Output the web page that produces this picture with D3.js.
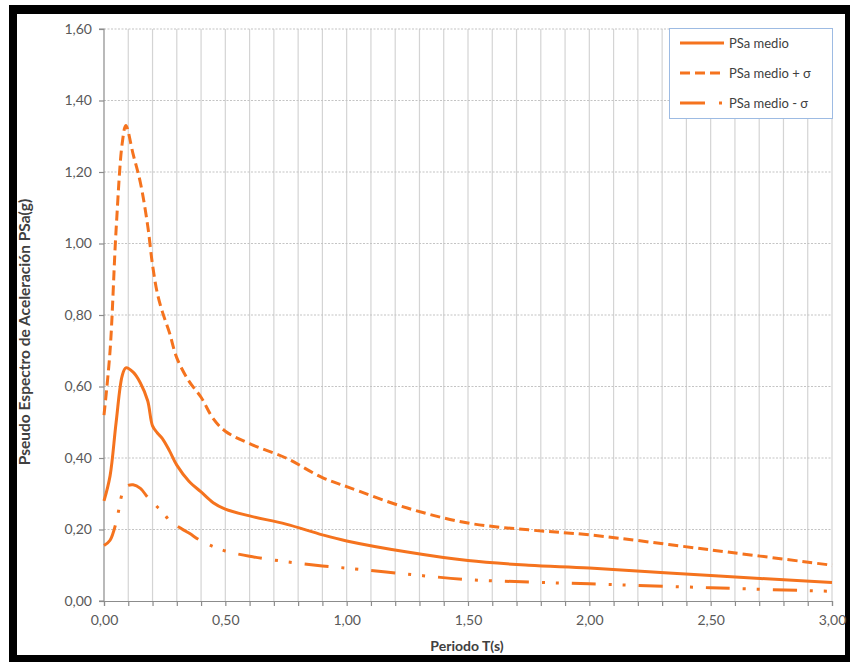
<!DOCTYPE html>
<html>
<head>
<meta charset="utf-8">
<script src="https://cdn.jsdelivr.net/npm/d3@7"></script>
<style>
  html, body { margin: 0; padding: 0; background: #fff; }
  svg { display: block; }
</style>
</head>
<body>
<svg id="chart" width="850" height="662"></svg>
<script>
// ---- data ----
const periods   = [0, 0.025, 0.05, 0.075, 0.09, 0.12, 0.15, 0.18, 0.2, 0.22, 0.24, 0.27, 0.3, 0.35, 0.4, 0.45, 0.5, 0.6, 0.75, 0.9, 1.0, 1.25, 1.5, 1.75, 2.0, 2.5, 3.0];
const psaMedio  = [0.28, 0.35, 0.50, 0.63, 0.652, 0.64, 0.61, 0.56, 0.49, 0.47, 0.455, 0.42, 0.38, 0.335, 0.305, 0.275, 0.257, 0.238, 0.215, 0.185, 0.168, 0.137, 0.113, 0.100, 0.092, 0.071, 0.052];
const psaPlus   = [0.52, 0.70, 1.04, 1.28, 1.33, 1.25, 1.17, 1.05, 0.94, 0.86, 0.81, 0.75, 0.68, 0.615, 0.57, 0.51, 0.475, 0.44, 0.40, 0.345, 0.32, 0.26, 0.218, 0.199, 0.185, 0.143, 0.10];
const psaMinus  = [0.155, 0.17, 0.22, 0.30, 0.32, 0.325, 0.315, 0.29, 0.277, 0.263, 0.25, 0.225, 0.21, 0.19, 0.168, 0.152, 0.14, 0.125, 0.11, 0.098, 0.092, 0.075, 0.06, 0.053, 0.048, 0.037, 0.027];
const seriesNames = ["PSa medio", "PSa medio + σ", "PSa medio - σ"];
const xTicks = [0, 0.5, 1.0, 1.5, 2.0, 2.5, 3.0];
const yTicks = [0, 0.2, 0.4, 0.6, 0.8, 1.0, 1.2, 1.4, 1.6];
const xTitle = "Periodo T(s)";
const yTitle = "Pseudo Espectro de Aceleración PSa(g)";

// ---- layout ----
const svg = d3.select("#chart");
const color = "#F5731E";
const fmt = v => d3.format(".2f")(v).replace(".", ",");

// black frame
svg.append("rect").attr("x", 9).attr("y", 5).attr("width", 841).attr("height", 657).attr("fill", "#000");
svg.append("rect").attr("x", 17).attr("y", 14).attr("width", 828).attr("height", 641).attr("fill", "#fff");

const x = d3.scaleLinear().domain([0, 3]).range([104, 832]);
const y = d3.scaleLinear().domain([0, 1.6]).range([601, 29]);

// vertical grid (every 0.1)
const minorX = d3.range(1, 31).map(i => i / 10);
svg.append("g").selectAll("line").data(minorX).join("line")
  .attr("x1", d => x(d)).attr("x2", d => x(d))
  .attr("y1", y(1.6)).attr("y2", y(0))
  .attr("stroke", "#d4d4d4").attr("stroke-width", 1.2);

// horizontal grid
svg.append("g").selectAll("line").data(yTicks.slice(1)).join("line")
  .attr("x1", x(0)).attr("x2", x(3))
  .attr("y1", d => y(d)).attr("y2", d => y(d))
  .attr("stroke", "#c4c4c4").attr("stroke-width", 1.2).attr("stroke-dasharray", "2,1.5");

// axes
const yAxis = d3.axisLeft(y).tickValues(yTicks).tickFormat(fmt).tickSize(5).tickPadding(7);
const gy = svg.append("g").attr("transform", `translate(${x(0)},0)`).call(yAxis);
const xAxis = d3.axisBottom(x).tickValues(d3.range(0, 31).map(i => i / 10)).tickFormat(d => xTicks.some(t => Math.abs(t - d) < 1e-9) ? fmt(d) : "").tickSize(5).tickPadding(9);
const gx = svg.append("g").attr("transform", `translate(0,${y(0)})`).call(xAxis);
[gx, gy].forEach(g => {
  g.select(".domain").attr("stroke", "#8c8c8c").attr("stroke-width", 1.2);
  g.selectAll(".tick line").attr("stroke", "#8c8c8c").attr("stroke-width", 1.2);
  g.selectAll(".tick text").attr("fill", "#595959").attr("font-family", "Lato, 'Open Sans', sans-serif").attr("font-size", 14);
});
gy.select(".domain").attr("d", `M-5,${y(1.6)}H0V${y(0)}H-5`);

// axis titles
svg.append("text").attr("x", 467).attr("y", 651).attr("text-anchor", "middle")
  .attr("font-family", "Lato, 'Open Sans', sans-serif").attr("font-weight", "bold").attr("font-size", 14)
  .attr("fill", "#404040").text(xTitle);
svg.append("text").attr("transform", "translate(30,332) rotate(-90)").attr("text-anchor", "middle")
  .attr("font-family", "Lato, 'Open Sans', sans-serif").attr("font-weight", "bold").attr("font-size", 15.5)
  .attr("fill", "#404040").text(yTitle);

// lines
const series = [
  { name: seriesNames[0], values: psaMedio, dash: null },
  { name: seriesNames[1], values: psaPlus, dash: "10,5" },
  { name: seriesNames[2], values: psaMinus, dash: "24,13,3,11,3,13" }
];
const line = d3.line().x(d => x(d[0])).y(d => y(d[1])).curve(d3.curveCatmullRom.alpha(0.5));
svg.append("g").selectAll("path").data(series).join("path")
  .attr("d", s => line(periods.map((p, i) => [p, s.values[i]])))
  .attr("fill", "none").attr("stroke", color).attr("stroke-width", 3)
  .attr("stroke-dasharray", s => s.dash);

// legend
const lg = svg.append("g");
lg.append("rect").attr("x", 669.5).attr("y", 28.5).attr("width", 163).attr("height", 90)
  .attr("fill", "#fff").attr("stroke", "#9dbbe3").attr("stroke-width", 1);
const rows = lg.selectAll("g.row").data(series).join("g").attr("class", "row")
  .attr("transform", (d, i) => `translate(0,${43 + i * 30})`);
rows.append("line").attr("x1", 680).attr("x2", 724).attr("y1", 0).attr("y2", 0)
  .attr("stroke", color).attr("stroke-width", 3)
  .attr("stroke-dasharray", (d, i) => i === 1 ? "10,5" : (i === 2 ? "25,14,3,30" : null));
rows.append("text").attr("x", 729).attr("y", 0).attr("dy", "0.35em")
  .attr("font-family", "Lato, 'Open Sans', sans-serif").attr("font-size", 13).attr("fill", "#404040")
  .text(d => d.name);
</script>
</body>
</html>
